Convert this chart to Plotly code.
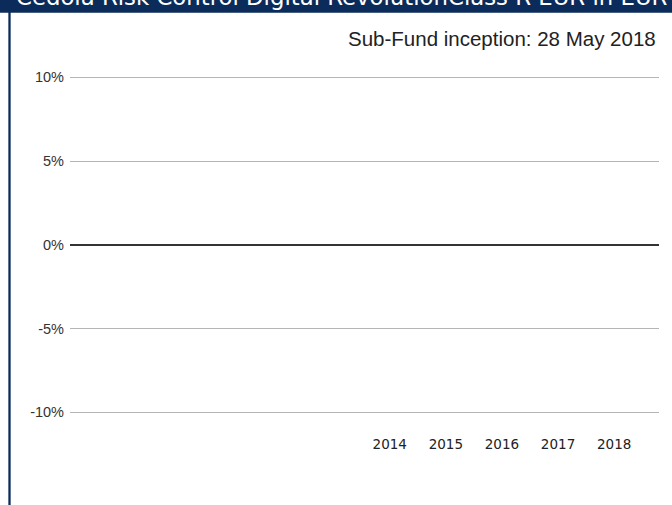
import plotly.graph_objects as go

# Data
years = [2014, 2015, 2016, 2017, 2018]
year_labels = ["2014", "2015", "2016", "2017", "2018"]
fund_returns = [None, None, None, None, None]
y_tickvals = [-10, -5, 0, 5, 10]
y_ticklabels = ["-10%", "-5%", "0%", "5%", "10%"]
header_title = "Cedola Risk Control Digital RevolutionClass R EUR in EUR"
inception_note = "Sub-Fund inception: 28 May 2018"

W, H = 672, 505
ML, MR, MT, MB = 70, 13, 69, 71
PW, PH = W - ML - MR, H - MT - MB

def px_x(p):
    return (p - ML) / PW

def px_y(p):
    return (H - MB - p) / PH

NAVY = "#0b2c5a"

fig = go.Figure()
fig.add_trace(go.Bar(x=years, y=fund_returns, marker_color=NAVY, showlegend=False))

fig.update_layout(
    width=W, height=H,
    margin=dict(l=ML, r=MR, t=MT, b=MB),
    paper_bgcolor="white", plot_bgcolor="white",
    xaxis=dict(
        range=[2008.3, 2018.8], tickvals=years, ticktext=year_labels,
        showgrid=False, zeroline=False, showline=False,
        tickfont=dict(family="DejaVu Sans", size=13.5, color="#222222"),
        fixedrange=True,
    ),
    yaxis=dict(
        range=[-11.3, 10.5], tickvals=y_tickvals, ticktext=y_ticklabels,
        showgrid=True, gridcolor="#b5b5b5", gridwidth=1,
        zeroline=True, zerolinecolor="#333333", zerolinewidth=1.5,
        showline=False, ticklabelstandoff=5,
        tickfont=dict(family="Liberation Sans", size=14.5, color="#333333"),
        fixedrange=True,
    ),
    shapes=[
        dict(type="rect", xref="paper", yref="paper",
             x0=px_x(-5), x1=px_x(W + 5), y0=px_y(12.7), y1=px_y(-10),
             fillcolor=NAVY, line=dict(width=0), layer="above"),
        dict(type="line", xref="paper", yref="paper",
             x0=px_x(9.5), x1=px_x(9.5), y0=px_y(H + 5), y1=px_y(12),
             line=dict(color=NAVY, width=2.3), layer="above"),
    ],
    annotations=[
        dict(text=header_title, xref="paper", yref="paper",
             x=px_x(14), y=px_y(-3.5), xanchor="left", yanchor="middle",
             showarrow=False, font=dict(family="DejaVu Sans", size=22.8, color="white")),
        dict(text=inception_note, xref="paper", yref="paper",
             x=px_x(658), y=px_y(39), xanchor="right", yanchor="middle",
             showarrow=False, font=dict(family="Liberation Sans", size=20.5, color="#222222")),
    ],
)

fig.write_html("out.html", config={"displayModeBar": False},
               post_script="document.body.style.margin='0';document.body.style.padding='0';")
